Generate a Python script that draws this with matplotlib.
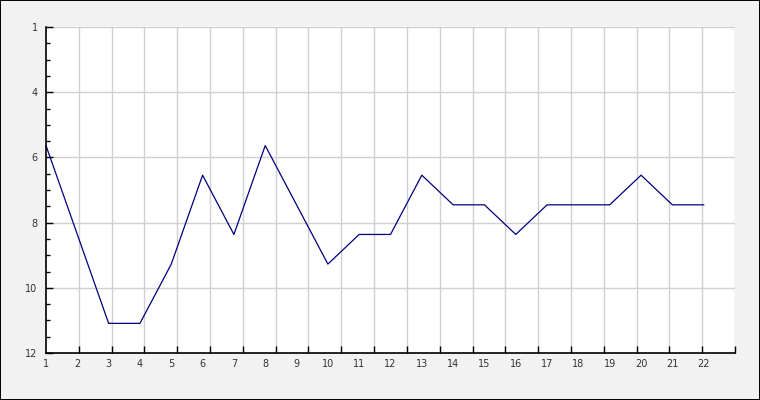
import numpy as np
from matplotlib import pyplot as plt
from matplotlib.patches import Rectangle

# values
positions = list(range(1, 23))
ranks = [5, 8, 11, 11, 9, 6, 8, 5, 7, 9, 8, 8, 6, 7, 7, 8, 7, 7, 7, 6, 7, 7]
x_labels = [str(p) for p in positions]
y_labels = ["1", "4", "6", "8", "10", "12"]

fig = plt.figure(figsize=(7.6, 4.0), dpi=100, facecolor="#f2f2f2")
fig.add_artist(Rectangle((0, 0), 1, 1, transform=fig.transFigure,
                         fill=False, edgecolor="black", linewidth=1.4))
ax = fig.add_axes([46 / 760, 1 - 353 / 400, 689 / 760, 326 / 400])
ax.set_facecolor("white")

ax.plot(positions, ranks, color="#000080", linewidth=0.9, zorder=3)

# x axis: labels on the data points, ticks/grid on an even 21-part split
ax.set_xlim(1, 23)
ax.set_xticks(positions)
ax.set_xticklabels(x_labels)
ax.set_xticks(np.linspace(1, 23, 22), minor=True)
ax.tick_params(axis="x", which="major", length=0, pad=4)
ax.tick_params(axis="x", which="minor", direction="in", length=5,
               width=1, color="black")
ax.grid(True, axis="x", which="minor", color="#d0d0d0", linewidth=1)

# y axis: reversed, labels spread evenly
ax.set_ylim(12, 1)
ax.set_yticks(np.linspace(1, 12, 6))
ax.set_yticklabels(y_labels)
ax.set_yticks(np.linspace(1, 12, 21), minor=True)
ax.tick_params(axis="y", which="major", direction="in", length=5,
               width=1, pad=6)
ax.tick_params(axis="y", which="minor", direction="in", length=3, width=1)
ax.grid(True, axis="y", which="major", color="#d0d0d0", linewidth=1)

ax.tick_params(labelsize=7, labelcolor="#333333")
ax.set_axisbelow(True)

for side in ("top", "right"):
    ax.spines[side].set_visible(False)
for side in ("left", "bottom"):
    ax.spines[side].set_linewidth(1.2)
    ax.spines[side].set_zorder(4)

fig.savefig("out.png", dpi=100, facecolor=fig.get_facecolor())
